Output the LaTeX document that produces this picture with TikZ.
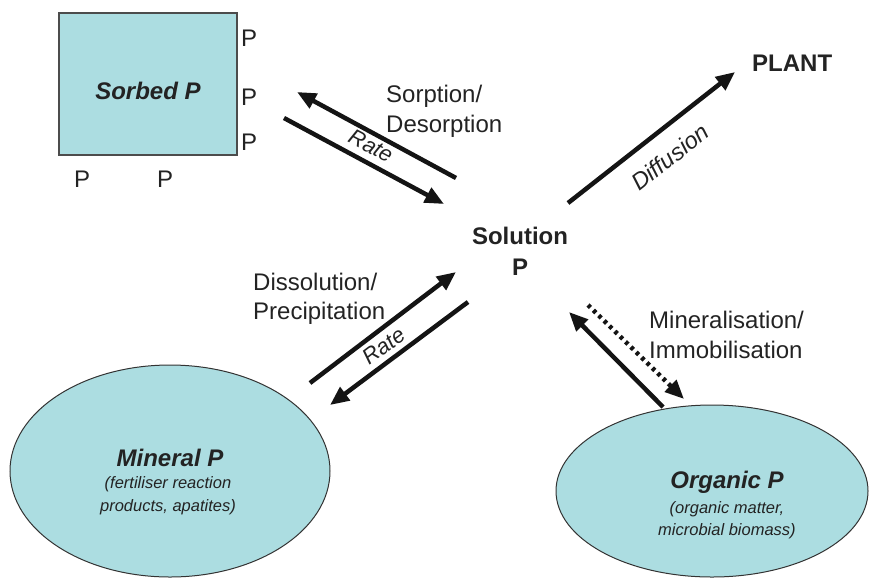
\documentclass[tikz,border=0pt]{standalone}
\usepackage{fontspec}
\setmainfont{Liberation Sans}
\usetikzlibrary{arrows.meta,shapes.geometric}
\definecolor{poolfill}{RGB}{172,221,225}
\definecolor{txt}{RGB}{35,35,35}
\tikzset{
  lbl/.style={anchor=base west, inner sep=0, text=txt, font=\fontsize{24}{28}\selectfont},
  plab/.style={anchor=base west, inner sep=0, text=txt, font=\fontsize{24}{28}\selectfont},
  bigb/.style={anchor=base, inner sep=0, text=txt, font=\fontsize{24}{28}\selectfont\bfseries},
  poolt/.style={anchor=base, inner sep=0, text=txt, font=\fontsize{24}{28}\selectfont\bfseries\itshape},
  subt/.style={anchor=base, inner sep=0, text=txt, font=\fontsize{16.5}{20}\selectfont\itshape},
  ratet/.style={inner sep=0, text=txt, font=\fontsize{22}{26}\selectfont\itshape},
  flow/.style={line width=4.5pt, draw=black!92, -{Triangle[length=19pt,width=16pt]}},
  dotflow/.style={line width=4.5pt, draw=black!92, dash pattern=on 3.5pt off 4pt, -{Triangle[length=19pt,width=16pt]}},
  pool/.style={fill=poolfill, draw=black!80, line width=1pt, inner sep=0}
}
\begin{document}
\begin{tikzpicture}[x=1pt,y=-1pt]
\useasboundingbox (0,0) rectangle (874,579);

% Sorbed P box
\node[pool, draw=black!70, line width=1.5pt, rectangle, minimum width=178pt, minimum height=142pt] (sorbed) at (148,84) {};
\node[poolt] (sorbedt) at (148,99) {Sorbed P};
\node[plab] (p1) at (241,46) {P};
\node[plab] (p2) at (241,105) {P};
\node[plab] (p3) at (241,150) {P};
\node[plab] (p4) at (74,187) {P};
\node[plab] (p5) at (157,187) {P};

% Solution P
\node[bigb] (sol) at (520,244) {Solution};
\node[bigb] (solp) at (520,275) {P};

% PLANT
\node[bigb, anchor=base west] (plant) at (752,71) {PLANT};

% Mineral P
\node[pool, ellipse, minimum width=320pt, minimum height=212pt] (mineral) at (170,471) {};
\node[poolt] (minT) at (170,466) {Mineral P};
\node[subt] (minS1) at (168,488) {(fertiliser reaction};
\node[subt] (minS2) at (168,511) {products, apatites)};

% Organic P
\node[pool, ellipse, minimum width=312pt, minimum height=172pt] (organic) at (712,491) {};
\node[poolt] (orgT) at (727,488) {Organic P};
\node[subt] (orgS1) at (727,513) {(organic matter,};
\node[subt] (orgS2) at (727,535) {microbial biomass)};

% Sorption / desorption
\coordinate (sa1) at (456,178);
\coordinate (sa2) at (297,92);
\coordinate (sb1) at (284,118);
\coordinate (sb2) at (444,204);
\draw[flow] (sa1) -- (sa2);
\draw[flow] (sb1) -- (sb2);
\node[ratet, rotate=-28] (rate1) at (371,146) {Rate};
\node[lbl] (sorp1) at (386,102) {Sorption/};
\node[lbl] (sorp2) at (386,132) {Desorption};

% Diffusion
\coordinate (d1) at (568,203);
\coordinate (d2) at (735,72);
\draw[flow] (d1) -- (d2);
\node[ratet, rotate=38, font=\fontsize{23.5}{27}\selectfont\itshape] (diff) at (670,157) {Diffusion};

% Dissolution / precipitation
\coordinate (m1) at (310,383);
\coordinate (m2) at (456,272);
\coordinate (n1) at (468,302);
\coordinate (n2) at (330,405);
\draw[flow] (m1) -- (m2);
\draw[flow] (n1) -- (n2);
\node[ratet, rotate=37] (rate2) at (384,346) {Rate};
\node[lbl] (dis1) at (253,290) {Dissolution/};
\node[lbl] (dis2) at (253,319) {Precipitation};

% Mineralisation / immobilisation
\coordinate (o1) at (663,407);
\coordinate (o2) at (569,312);
\coordinate (q1) at (588,305);
\coordinate (q2) at (684,399);
\draw[flow] (o1) -- (o2);
\draw[dotflow] (q1) -- (q2);
\node[lbl] (min1) at (649,328) {Mineralisation/};
\node[lbl] (min2) at (649,358) {Immobilisation};
\end{tikzpicture}
\end{document}
